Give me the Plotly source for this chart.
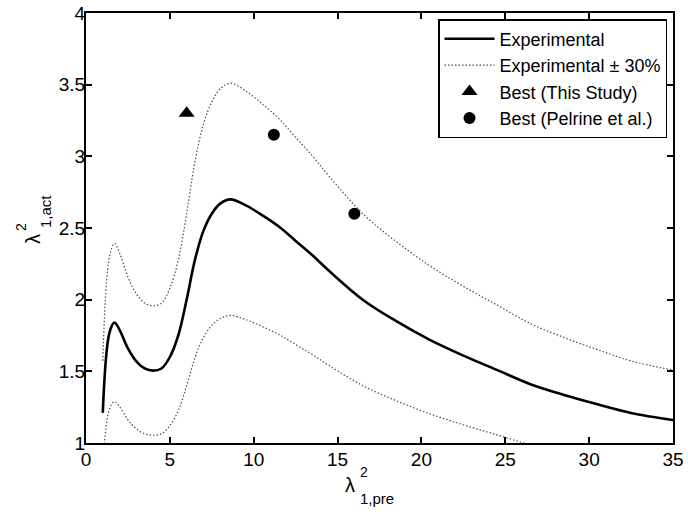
import plotly.graph_objects as go

# ---- data ----
x_exp = [1.0, 1.4, 1.7, 2.0, 2.5, 3.0, 3.5, 4.0, 4.5, 5.0, 5.5, 6.0, 6.5, 7.0, 7.5,
         8.0, 8.6, 9.5, 10.5, 11.5, 12.5, 13.5, 14.5, 16.5, 18.5, 20.5, 22.5, 24.5,
         26.5, 28.5, 30.5, 32.5, 35.0]
y_exp = [1.21, 1.77, 1.84, 1.79, 1.66, 1.57, 1.52, 1.505, 1.52, 1.60, 1.75, 2.00, 2.28,
         2.48, 2.60, 2.67, 2.70, 2.66, 2.59, 2.51, 2.41, 2.31, 2.20, 2.00, 1.85, 1.72,
         1.61, 1.51, 1.41, 1.335, 1.27, 1.21, 1.16]
y_upper = [1.573, 2.301, 2.392, 2.327, 2.158, 2.041, 1.976, 1.957, 1.976, 2.08, 2.275,
           2.60, 2.964, 3.224, 3.38, 3.471, 3.51, 3.458, 3.367, 3.263, 3.133, 3.003,
           2.86, 2.60, 2.405, 2.236, 2.093, 1.963, 1.833, 1.736, 1.651, 1.573, 1.508]
y_lower = [0.847, 1.239, 1.288, 1.253, 1.162, 1.099, 1.064, 1.054, 1.064, 1.12, 1.225,
           1.40, 1.596, 1.736, 1.82, 1.869, 1.89, 1.862, 1.813, 1.757, 1.687, 1.617,
           1.54, 1.40, 1.295, 1.204, 1.127, 1.057, 0.987, 0.935, 0.889, 0.847, 0.812]
best_this_x = [6.0]
best_this_y = [3.3]
best_pel_x = [11.2, 16.0]
best_pel_y = [3.15, 2.6]
x_ticks = [0, 5, 10, 15, 20, 25, 30, 35]
y_ticks = [1, 1.5, 2, 2.5, 3, 3.5, 4]
y_ticklabels = ["1", "1.5", "2", "2.5", "3", "3.5", "4"]

FONT = "Liberation Sans, Arial, sans-serif"
W, H = 688, 512
L, R, T, B = 86, 673, 13, 443


def px(xp, yp):
    return (xp - L) / (R - L), (B - yp) / (B - T)


fig = go.Figure()
fig.add_trace(go.Scatter(x=x_exp, y=y_exp, mode="lines", name="Experimental",
                         line=dict(color="black", width=2.6, shape="spline", smoothing=1.0)))
dot_line = dict(color="#4d4d4d", width=1.2, dash="1.5px,2px", shape="spline", smoothing=1.0)
fig.add_trace(go.Scatter(x=x_exp, y=y_upper, mode="lines", name="Experimental \u00b1 30%",
                         line=dot_line, legendgroup="pm"))
fig.add_trace(go.Scatter(x=x_exp, y=y_lower, mode="lines", name="Experimental \u00b1 30%",
                         line=dot_line, legendgroup="pm", showlegend=False))
fig.add_trace(go.Scatter(x=best_this_x, y=best_this_y, mode="markers", name="Best (This Study)",
                         marker=dict(symbol="triangle-up", size=14, color="black")))
fig.add_trace(go.Scatter(x=best_pel_x, y=best_pel_y, mode="markers", name="Best (Pelrine et al.)",
                         marker=dict(symbol="circle", size=12, color="black")))

axis_common = dict(showline=True, linecolor="black", linewidth=2, mirror="ticks",
                   ticks="inside", ticklen=6, tickwidth=1.5, tickcolor="black",
                   showgrid=False, zeroline=False, automargin=False,
                   tickfont=dict(family=FONT, size=19, color="black"))
fig.update_xaxes(range=[0, 35], tickvals=x_ticks, ticktext=[str(v) for v in x_ticks],
                 ticklabelstandoff=-2, **axis_common)
fig.update_yaxes(range=[1, 4], tickvals=y_ticks, ticktext=y_ticklabels,
                 ticklabelstandoff=-5, **axis_common)

_, ly = px(406, 19)
rx, _ = px(667, 19)
fig.update_layout(
    width=W, height=H,
    margin=dict(l=L, r=W - R, t=T, b=H - B, autoexpand=False),
    plot_bgcolor="white", paper_bgcolor="white",
    font=dict(family=FONT, color="black"),
    legend=dict(x=rx, y=ly, xanchor="right", yanchor="top",
                bgcolor="white", bordercolor="black", borderwidth=1.5,
                font=dict(family=FONT, size=18, color="black"),
                itemwidth=50, tracegroupgap=0),
)

ann = []
# x-axis title: lambda^2_{1,pre}
ax, ay = px(350, 485)
ann.append(dict(x=ax, y=ay, xref="paper", yref="paper", text="\u03bb", showarrow=False,
                xanchor="center", yanchor="middle", font=dict(family=FONT, size=20)))
ax, ay = px(358, 472)
ann.append(dict(x=ax, y=ay, xref="paper", yref="paper", text="2", showarrow=False,
                xanchor="left", yanchor="middle", font=dict(family=FONT, size=14)))
ax, ay = px(358, 498)
ann.append(dict(x=ax, y=ay, xref="paper", yref="paper", text="1,pre", showarrow=False,
                xanchor="left", yanchor="middle", font=dict(family=FONT, size=15)))
# y-axis title: lambda^2_{1,act}
ax, ay = px(33, 239)
ann.append(dict(x=ax, y=ay, xref="paper", yref="paper", text="\u03bb", showarrow=False,
                textangle=-90, xanchor="center", yanchor="middle", font=dict(family=FONT, size=20)))
ax, ay = px(21, 227)
ann.append(dict(x=ax, y=ay, xref="paper", yref="paper", text="2", showarrow=False,
                textangle=-90, xanchor="center", yanchor="middle", font=dict(family=FONT, size=14)))
ax, ay = px(45, 212)
ann.append(dict(x=ax, y=ay, xref="paper", yref="paper", text="1,act", showarrow=False,
                textangle=-90, xanchor="center", yanchor="middle", font=dict(family=FONT, size=15)))
fig.update_layout(annotations=ann)

fig.write_html("out.html", config={"displayModeBar": False},
               post_script="document.body.style.margin='0';")
